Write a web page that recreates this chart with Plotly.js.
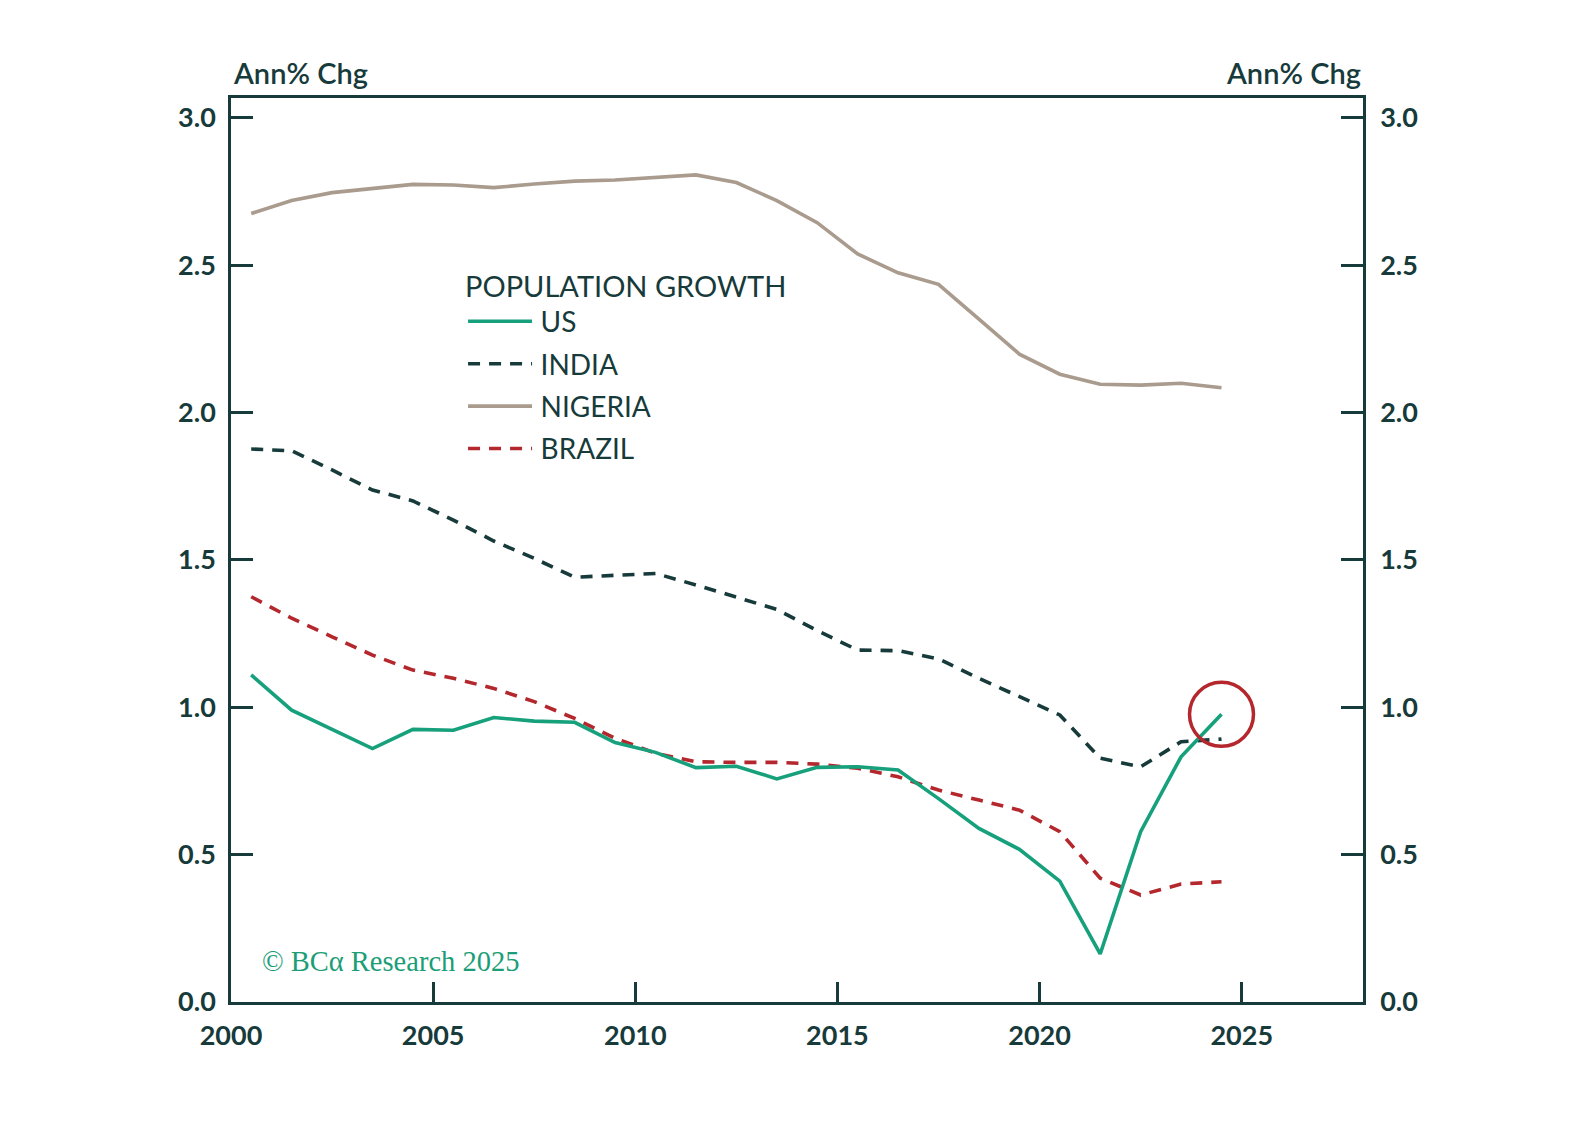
<!DOCTYPE html>
<html>
<head>
<meta charset="utf-8">
<script src="https://cdn.plot.ly/plotly-3.0.1.min.js"></script>
<style>
html, body { margin: 0; padding: 0; background: #fff; }
#chart { width: 1595px; height: 1144px; }
</style>
</head>
<body>
<div id="chart"></div>
<script>
// annual population growth, % chg, plotted at mid-year
years = [2000.5, 2001.5, 2002.5, 2003.5, 2004.5, 2005.5, 2006.5, 2007.5, 2008.5, 2009.5,
         2010.5, 2011.5, 2012.5, 2013.5, 2014.5, 2015.5, 2016.5, 2017.5, 2018.5, 2019.5,
         2020.5, 2021.5, 2022.5, 2023.5, 2024.5]

us = [1.11, 0.99, 0.925, 0.86, 0.925, 0.922, 0.965, 0.953, 0.949, 0.88,
      0.847, 0.795, 0.80, 0.757, 0.796, 0.798, 0.787, 0.69, 0.589, 0.518,
      0.41, 0.163, 0.578, 0.832, 0.976]

india = [1.876, 1.87, 1.805, 1.737, 1.70, 1.635, 1.564, 1.505, 1.441, 1.446,
         1.454, 1.415, 1.375, 1.332, 1.26, 1.194, 1.192, 1.164, 1.098, 1.036,
         0.974, 0.827, 0.798, 0.883, 0.892]

nigeria = [2.675, 2.719, 2.746, 2.76, 2.774, 2.772, 2.763, 2.775, 2.785, 2.789,
           2.797, 2.806, 2.78, 2.719, 2.644, 2.538, 2.474, 2.435, 2.317, 2.198,
           2.13, 2.096, 2.093, 2.099, 2.084]

brazil = [1.375, 1.302, 1.239, 1.177, 1.126, 1.098, 1.064, 1.019, 0.962, 0.895,
          0.844, 0.815, 0.813, 0.813, 0.807, 0.793, 0.764, 0.719, 0.685, 0.651,
          0.578, 0.42, 0.363, 0.40, 0.408]

yTicks = [0, 0.5, 1.0, 1.5, 2.0, 2.5, 3.0]
xTicks = [2000, 2005, 2010, 2015, 2020, 2025]

ink = '#173a3a'
font = 'Lato, "Open Sans", sans-serif'

mkLine = (name, y, color, dash) => ({
    x: years,
    y: y,
    mode: 'lines',
    type: 'scatter',
    name: '\u2009' + name,   // thin space: a little air after the legend swatch
    legendgroup: name,
    line: {color: color, width: 3.6, dash: dash}
})

traces = [
    mkLine('NIGERIA', nigeria, '#a99b8d', 'solid'),
    mkLine('BRAZIL', brazil, '#b3272d', '12px,9px'),
    mkLine('INDIA', india, ink, '12px,9px'),
    mkLine('US', us, '#16a07c', 'solid'),
    // highlight ring on the latest US reading
    {
        x: [years[years.length - 1]],
        y: [us[us.length - 1]],
        mode: 'markers',
        type: 'scatter',
        showlegend: false,
        hoverinfo: 'skip',
        marker: {symbol: 'circle-open', size: 64, color: '#b3272d', line: {width: 3.5, color: '#b3272d'}}
    }
]
// legend order: US, INDIA, NIGERIA, BRAZIL
traces[3].legendrank = 1
traces[2].legendrank = 2
traces[0].legendrank = 3
traces[1].legendrank = 4

axisCommon = {
    showline: true,
    linecolor: ink,
    linewidth: 2.5,
    showgrid: false,
    zeroline: false,
    ticks: 'inside',
    tickcolor: ink,
    tickfont: {family: font, size: 27, color: ink, weight: 700}
}

layout = {
    width: 1595,
    height: 1144,
    margin: {l: 231, r: 232, t: 98, b: 142},
    paper_bgcolor: '#fff',
    plot_bgcolor: '#fff',
    showlegend: true,
    legend: {
        x: 0.205, xanchor: 'left',
        y: 0.822, yanchor: 'top',
        bgcolor: 'rgba(0,0,0,0)',
        borderwidth: 0,
        tracegroupgap: 3,
        itemwidth: 64,
        font: {family: font, size: 28, color: ink},
        title: {text: 'POPULATION GROWTH', side: 'top', font: {family: font, size: 29, color: ink}}
    },
    xaxis: Object.assign({}, axisCommon, {
        range: [2000, 2028],
        tickvals: xTicks,
        ticklen: 20,
        tickwidth: 3,
        mirror: true,
        ticklabelstandoff: 8
    }),
    yaxis: Object.assign({}, axisCommon, {
        range: [0, 3.067],
        tickvals: yTicks,
        tickformat: '.1f',
        ticklen: 22,
        tickwidth: 2.5,
        ticklabelstandoff: 7
    }),
    yaxis2: Object.assign({}, axisCommon, {
        range: [0, 3.067],
        tickvals: yTicks,
        tickformat: '.1f',
        ticklen: 22,
        tickwidth: 2.5,
        overlaying: 'y',
        side: 'right',
        ticklabelstandoff: 9
    }),
    annotations: [
        {xref: 'paper', yref: 'paper', x: 0, y: 1, xanchor: 'left', yanchor: 'bottom', yshift: 6,
         text: 'Ann% Chg', showarrow: false, font: {family: font, size: 29, color: ink, weight: 600}},
        {xref: 'paper', yref: 'paper', x: 1, y: 1, xanchor: 'right', yanchor: 'bottom', yshift: 6,
         text: 'Ann% Chg', showarrow: false, font: {family: font, size: 29, color: ink, weight: 600}},
        {xref: 'paper', yref: 'y', x: 0.026, y: 0.078, xanchor: 'left', yanchor: 'bottom',
         text: '© BCα Research 2025', showarrow: false,
         font: {family: '"Liberation Serif", serif', size: 28.5, color: '#1b9e77'}}
    ]
}

// empty trace so the right axis is drawn
traces.push({x: [years[0]], y: [null], yaxis: 'y2', type: 'scatter', mode: 'lines', showlegend: false, hoverinfo: 'skip'})

Plotly.newPlot('chart', traces, layout, {displayModeBar: false, responsive: false})
</script>
</body>
</html>
